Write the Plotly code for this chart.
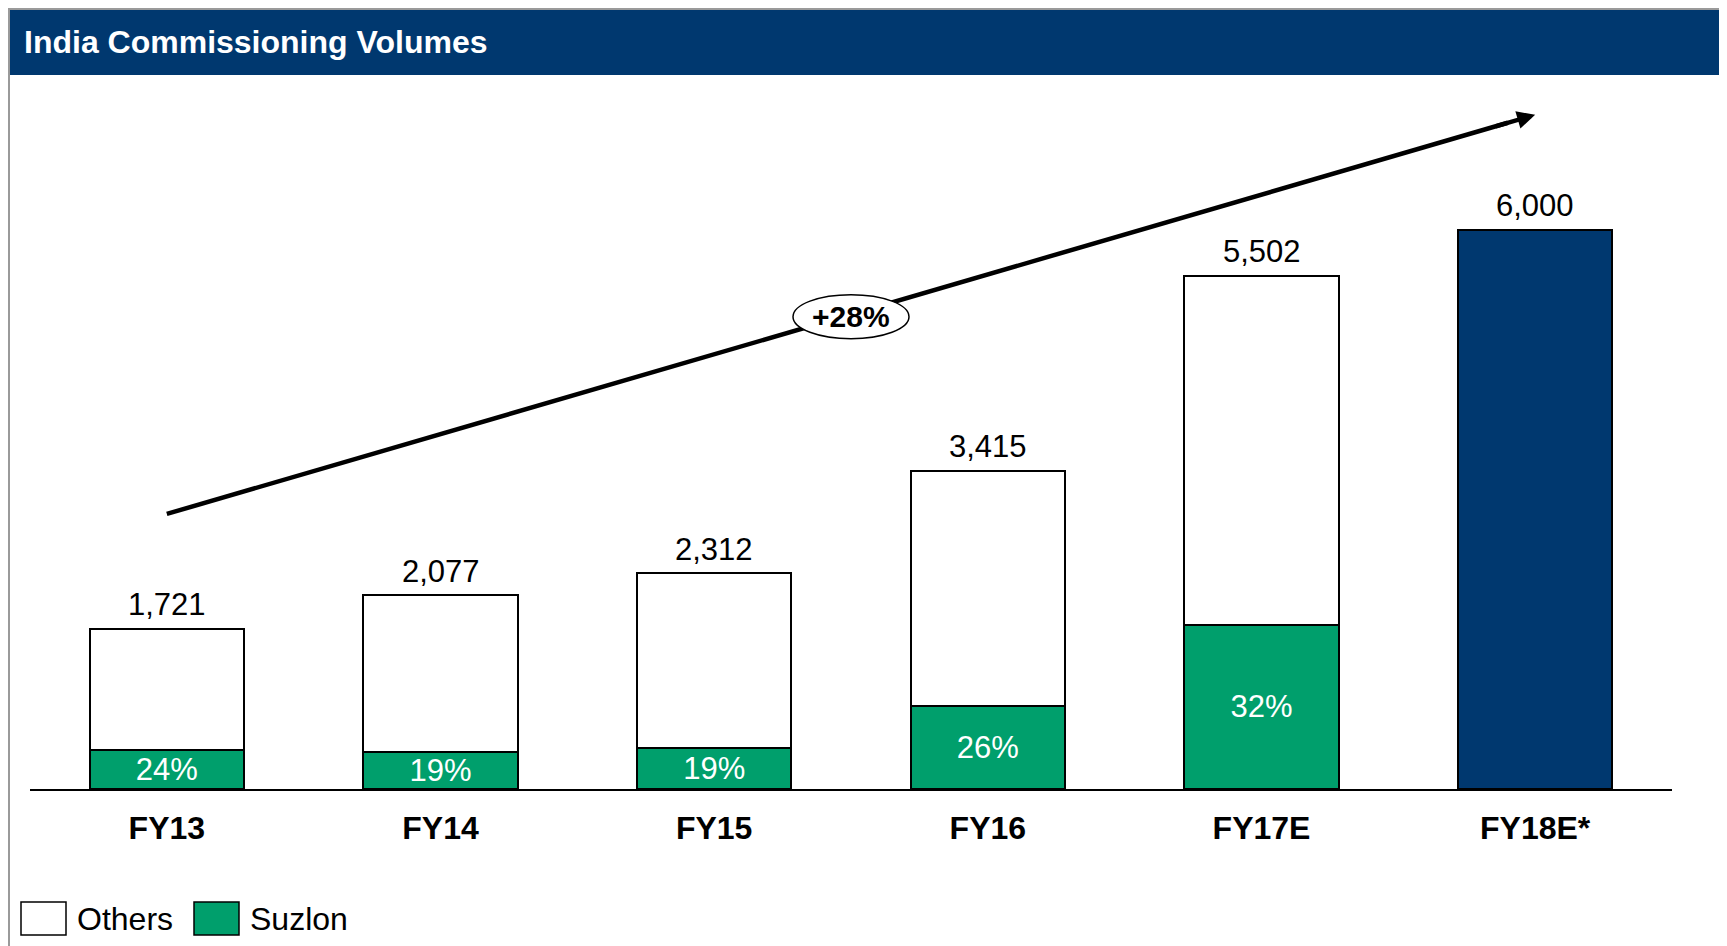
import plotly.graph_objects as go

# data (MW)
years = ["FY13", "FY14", "FY15", "FY16", "FY17E", "FY18E*"]
totals = [1721, 2077, 2312, 3415, 5502, 6000]
suzlon_share = [24, 19, 19, 26, 32]          # % of total, FY13..FY17E
actual_years = years[:5]
forecast_years = years[5:]
forecast_totals = totals[5:]
cagr_label = "+28%"
series_names = ["Others", "Suzlon"]

NAVY = "#00386F"
GREEN = "#009F6C"
FONT = "Arial, Liberation Sans, sans-serif"

# page body margin pushes the figure 8px right/down
OFF = 8
W, H = 1719, 938
# plot area in screen pixels: x 30..1672, y 85..789
L, T = 30 - OFF, 85 - OFF
R = W - (1672 - OFF)
B = H - (789 - OFF)
PW, PH = W - L - R, H - T - B
YMAX = 7550


def px_x(p):
    return (p - OFF - L) / PW


def px_y(p):
    return (H - B - (p - OFF)) / PH


suzlon_mw = [t * s / 100 for t, s in zip(totals[:5], suzlon_share)]
others_mw = [t - s for t, s in zip(totals[:5], suzlon_mw)]

fig = go.Figure()
fig.add_bar(
    x=actual_years, y=suzlon_mw, name="Suzlon", width=0.563,
    marker=dict(color=GREEN, line=dict(color="black", width=2)),
    text=[f"{s}%" for s in suzlon_share], textposition="inside",
    insidetextanchor="middle", constraintext="none",
    textfont=dict(color="white", size=31, family=FONT),
)
fig.add_bar(
    x=actual_years, y=others_mw, name="Others", width=0.563,
    marker=dict(color="white", line=dict(color="black", width=2)),
)
fig.add_bar(
    x=forecast_years, y=forecast_totals, name="Forecast", width=0.563,
    marker=dict(color=NAVY, line=dict(color="black", width=2)),
)

# total labels above bars
for yr, tot in zip(years, totals):
    fig.add_annotation(x=yr, y=tot, text=f"{tot:,}", showarrow=False,
                       yshift=24, font=dict(size=31, color="black", family=FONT))

# growth arrow: body as a shape so the ellipse can sit on top, head as annotation
fig.add_shape(type="line", xref="x", yref="y", x0=0, y0=2950, x1=4.9, y1=7145,
              line=dict(color="black", width=4.5), layer="above")
fig.add_annotation(x=5, y=7230, ax=4.85, ay=7102, xref="x", yref="y",
                   axref="x", ayref="y", text="", showarrow=True,
                   arrowhead=2, arrowsize=0.8, arrowwidth=4.5, arrowcolor="black")
fig.add_shape(type="circle", xref="x", yref="y", xsizemode="pixel", ysizemode="pixel",
              xanchor=2.5, yanchor=5065, x0=-58, x1=58, y0=-22, y1=22,
              fillcolor="white", line=dict(color="black", width=1.5), layer="above")
fig.add_annotation(x=2.5, y=5065, text=f"<b>{cagr_label}</b>", showarrow=False,
                   font=dict(size=30, color="black", family=FONT))

# frame and header bar
fig.add_shape(type="rect", xref="paper", yref="paper",
              x0=px_x(OFF + 1), x1=px_x(1723), y0=px_y(960), y1=px_y(OFF + 1),
              line=dict(color="#9A9A9A", width=2), fillcolor="rgba(0,0,0,0)", layer="below")
fig.add_shape(type="rect", xref="paper", yref="paper",
              x0=px_x(OFF + 2), x1=px_x(1722), y0=px_y(75), y1=px_y(OFF + 2),
              line=dict(width=0), fillcolor=NAVY, layer="below")

# manual legend
legend_items = [(series_names[0], "white", 21), (series_names[1], GREEN, 194)]
for name, col, x0 in legend_items:
    fig.add_shape(type="rect", xref="paper", yref="paper",
                  x0=px_x(x0), x1=px_x(x0 + 45), y0=px_y(935), y1=px_y(902),
                  fillcolor=col, line=dict(color="black", width=1.5))
    fig.add_annotation(xref="paper", yref="paper", x=px_x(x0 + 54), y=px_y(919),
                       xanchor="left", yanchor="middle", text=name, showarrow=False,
                       font=dict(size=32, color="black", family=FONT))

fig.update_layout(
    width=W, height=H,
    margin=dict(l=L, r=R, t=T, b=B),
    barmode="stack",
    showlegend=False,
    plot_bgcolor="white", paper_bgcolor="white",
    font=dict(family=FONT, color="black"),
    title=dict(text="<b>India Commissioning Volumes</b>", x=(24 - OFF) / W, xanchor="left",
               y=1 - (42 - OFF) / H, yanchor="middle",
               font=dict(size=32, color="white", family=FONT)),
    xaxis=dict(range=[-0.5, 5.5], showgrid=False, zeroline=False,
               showline=True, linecolor="black", linewidth=2,
               ticks="", ticklabelstandoff=10,
               tickfont=dict(size=32, color="black", family=FONT),
               tickprefix="<b>", ticksuffix="</b>"),
    yaxis=dict(range=[0, YMAX], visible=False),
)

fig.write_html("out.html")
